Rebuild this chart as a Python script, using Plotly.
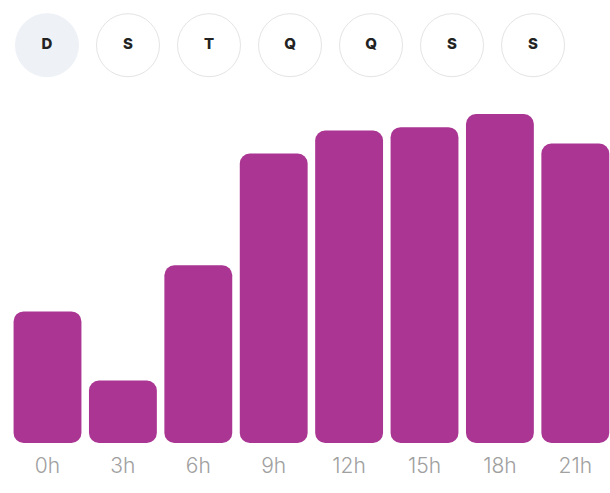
import plotly.graph_objects as go

days = ["D", "S", "T", "Q", "Q", "S", "S"]
hours = ["0h", "3h", "6h", "9h", "12h", "15h", "18h", "21h"]
values = [40, 19, 54, 88, 95, 96, 100, 91]

BAR = "#AA3592"
xs = list(range(len(hours)))

fig = go.Figure()
fig.add_trace(go.Bar(
    x=xs, base=[0] * len(values), y=values,
    width=0.9, marker=dict(color=BAR, line=dict(width=0), cornerradius=10),
    hoverinfo="skip", showlegend=False))

# day selector circles
fig.add_trace(go.Scatter(
    x=list(range(len(days))), y=[0] * len(days),
    xaxis="x2", yaxis="y2", mode="markers+text", text=days,
    textposition="middle center",
    textfont=dict(family="Inter, Roboto, sans-serif", size=15, color="#222222", weight=800),
    marker=dict(size=63,
                color=["#EEF2F7"] + ["#FFFFFF"] * (len(days) - 1),
                line=dict(width=1, color=["#EEF2F7"] + ["#E4E4E4"] * (len(days) - 1))),
    hoverinfo="skip", showlegend=False, cliponaxis=False))

fig.update_layout(
    width=610, height=493,
    margin=dict(l=0, r=0, t=0, b=50),
    paper_bgcolor="white", plot_bgcolor="white",
    barmode="overlay",
    xaxis=dict(range=[-0.63, 7.46], tickvals=xs, ticktext=hours,
               showgrid=False, zeroline=False, showline=False, ticks="",
               tickfont=dict(family="Inter, Roboto, sans-serif", size=21, color="#A0A0A0", weight=300),
               ticklabelstandoff=8),
    yaxis=dict(range=[0, 134.65], visible=False, fixedrange=True),
    xaxis2=dict(range=[-0.58, 6.95], overlaying="x", visible=False),
    yaxis2=dict(range=[-8.8, 1], overlaying="y", visible=False),
)

fig.write_html("out.html", config={"displayModeBar": False},
               post_script="document.body.style.margin='0';document.body.style.overflow='hidden';")
